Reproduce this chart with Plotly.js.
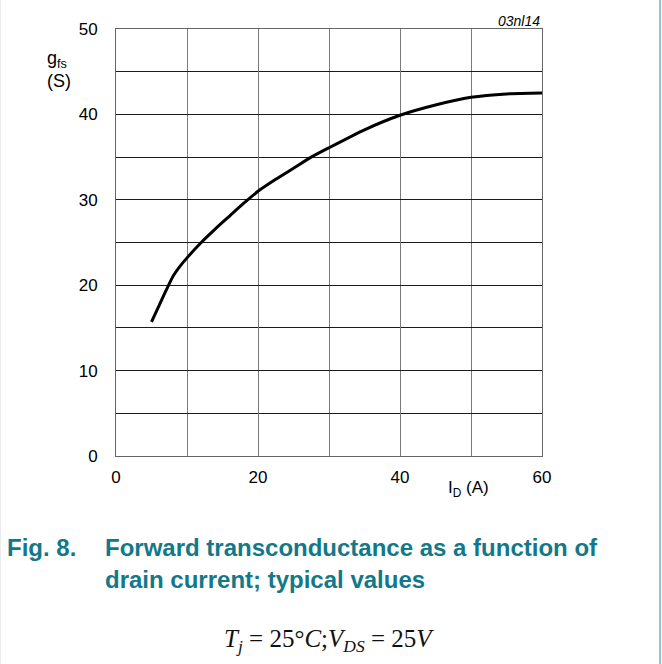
<!DOCTYPE html>
<html>
<head>
<meta charset="utf-8">
<script src="https://cdn.plot.ly/plotly-3.0.1.min.js"></script>
<style>
  html, body { margin: 0; padding: 0; background: #ffffff; }
  #chart { width: 662px; height: 664px; }
</style>
</head>
<body>
<div id="chart"></div>
<script>
// Drain current I_D (A)
const drainCurrent = [5, 6, 7, 8, 9, 10, 12, 14, 16, 18, 20, 22.5, 25, 27.5, 30, 35, 40, 45, 50, 55, 60];
// Forward transconductance g_fs (S)
const transconductance = [15.7, 17.5, 19.3, 21.0, 22.2, 23.2, 25.0, 26.6, 28.1, 29.6, 31.0, 32.4, 33.7, 35.0, 36.1, 38.2, 39.9, 41.1, 42.0, 42.4, 42.5];

const xTickVals = [0, 20, 40, 60];
const yTickVals = [0, 10, 20, 30, 40, 50];

// plot area in pixels
const L = 116, R = 542, T = 29, B = 456;
const px = x => (x - L) / (R - L);
const py = y => (B - y) / (B - T);

const teal = '#12788a';

const trace = {
  x: drainCurrent,
  y: transconductance,
  type: 'scatter',
  mode: 'lines',
  line: { color: '#000000', width: 3, shape: 'spline', smoothing: 0.6 },
  hoverinfo: 'skip'
};

const axisFont = { family: 'Liberation Sans, Arial, sans-serif', size: 17, color: '#000' };

const layout = {
  width: 662,
  height: 664,
  margin: { l: L, r: 662 - R, t: T, b: 664 - B, pad: 0 },
  paper_bgcolor: '#ffffff',
  plot_bgcolor: '#ffffff',
  showlegend: false,
  xaxis: {
    range: [0, 60],
    tickvals: xTickVals,
    ticktext: xTickVals.map(String),
    showgrid: true,
    gridcolor: '#7a7a7a',
    gridwidth: 1,
    minor: { dtick: 10, tick0: 0, showgrid: true, gridcolor: '#7a7a7a', gridwidth: 1 },
    zeroline: false,
    showline: true,
    mirror: true,
    linecolor: '#666',
    linewidth: 1,
    ticks: 'outside',
    ticklen: 6,
    tickcolor: 'rgba(0,0,0,0)',
    tickfont: axisFont,
    fixedrange: true
  },
  yaxis: {
    range: [0, 50],
    tickvals: yTickVals,
    ticktext: yTickVals.map(String),
    showgrid: true,
    gridcolor: '#1a1a1a',
    gridwidth: 1,
    minor: { dtick: 5, tick0: 0, showgrid: true, gridcolor: '#1a1a1a', gridwidth: 1 },
    zeroline: false,
    showline: true,
    mirror: true,
    linecolor: '#666',
    linewidth: 1,
    ticks: 'outside',
    ticklen: 14,
    tickcolor: 'rgba(0,0,0,0)',
    tickfont: axisFont,
    fixedrange: true
  },
  annotations: [
    { text: '<i>03nl14</i>', xref: 'paper', yref: 'paper', x: px(542), y: py(21),
      xanchor: 'right', yanchor: 'middle', showarrow: false,
      font: { family: 'Liberation Sans, Arial, sans-serif', size: 14, color: '#000' } },
    { text: 'g<sub>fs</sub>', xref: 'paper', yref: 'paper', x: px(45), y: py(60),
      xanchor: 'left', yanchor: 'middle', showarrow: false,
      font: { family: 'Liberation Sans, Arial, sans-serif', size: 18, color: '#000' } },
    { text: '(S)', xref: 'paper', yref: 'paper', x: px(45), y: py(81),
      xanchor: 'left', yanchor: 'middle', showarrow: false,
      font: { family: 'Liberation Sans, Arial, sans-serif', size: 18, color: '#000' } },
    { text: 'I<sub>D</sub> (A)', xref: 'paper', yref: 'paper', x: px(446), y: py(489),
      xanchor: 'left', yanchor: 'middle', showarrow: false,
      font: { family: 'Liberation Sans, Arial, sans-serif', size: 17, color: '#000' } },
    { text: '<b>Fig. 8.</b>', xref: 'paper', yref: 'paper', x: px(5), y: py(547),
      xanchor: 'left', yanchor: 'middle', showarrow: false,
      font: { family: 'Liberation Sans, Arial, sans-serif', size: 24, color: teal } },
    { text: '<b>Forward transconductance as a function of</b>', xref: 'paper', yref: 'paper', x: px(103), y: py(547),
      xanchor: 'left', yanchor: 'middle', showarrow: false,
      font: { family: 'Liberation Sans, Arial, sans-serif', size: 24, color: teal } },
    { text: '<b>drain current; typical values</b>', xref: 'paper', yref: 'paper', x: px(103), y: py(579),
      xanchor: 'left', yanchor: 'middle', showarrow: false,
      font: { family: 'Liberation Sans, Arial, sans-serif', size: 24, color: teal } },
    { text: '<i>T</i><sub><i>j</i></sub> = 25°<i>C</i>;<i>V</i><sub><i>DS</i></sub> = 25<i>V</i>',
      xref: 'paper', yref: 'paper', x: px(329), y: py(640),
      xanchor: 'center', yanchor: 'middle', showarrow: false,
      font: { family: 'Liberation Serif, Times New Roman, serif', size: 25, color: '#111' } }
  ],
  shapes: [
    { type: 'line', xref: 'paper', yref: 'paper', x0: px(660), x1: px(660), y0: py(0), y1: py(664),
      line: { color: '#8cc6d2', width: 2 } },
    { type: 'line', xref: 'paper', yref: 'paper', x0: px(0.5), x1: px(0.5), y0: py(0), y1: py(664),
      line: { color: '#ececec', width: 1 } }
  ]
};

Plotly.newPlot('chart', [trace], layout, { displayModeBar: false, staticPlot: true });
</script>
</body>
</html>
